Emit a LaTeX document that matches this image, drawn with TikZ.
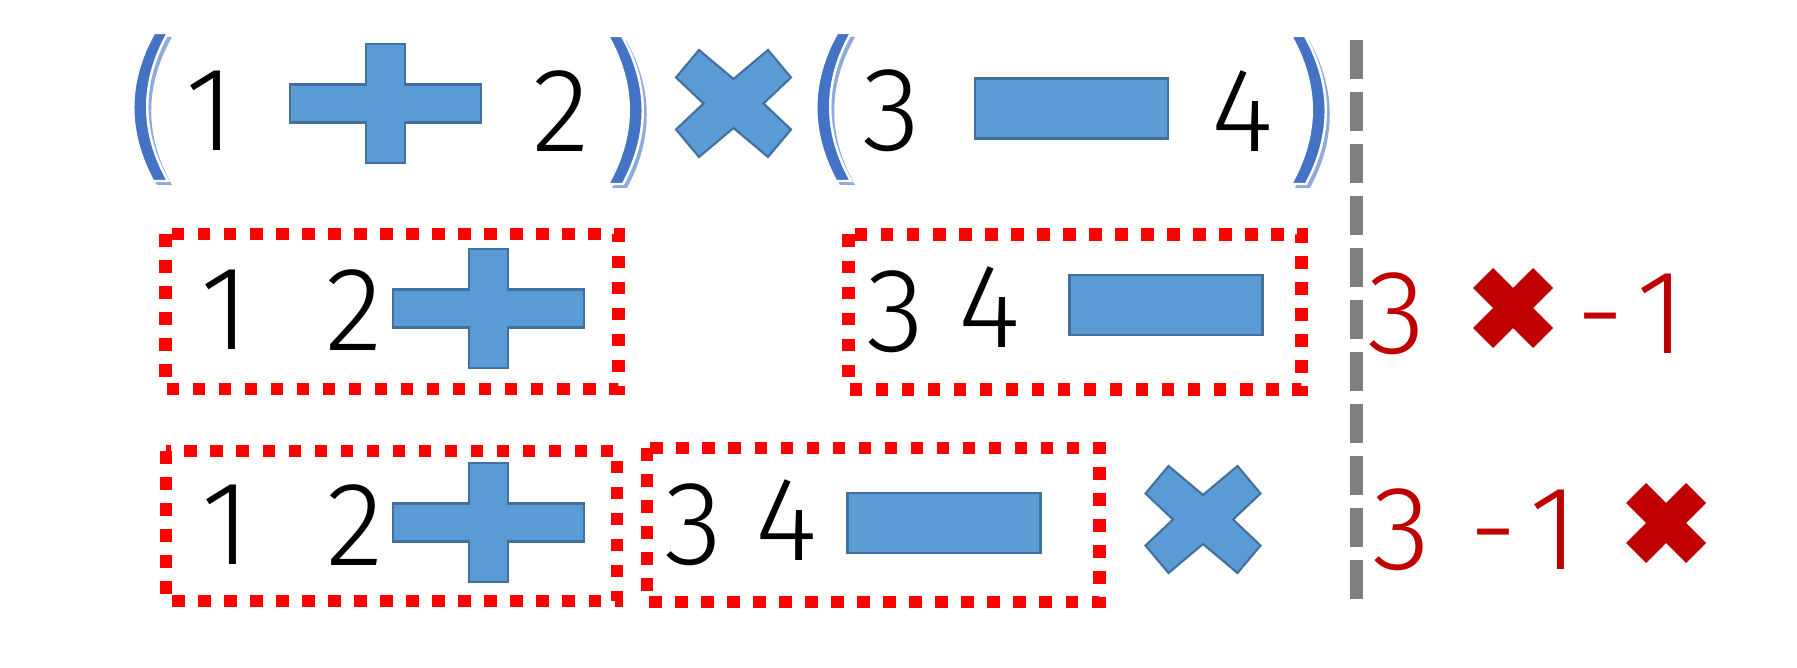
\documentclass[tikz,border=0pt]{standalone}
\usepackage{fontspec}
\newfontfamily\digitfont{Fira Sans Light}

\definecolor{shapeblue}{HTML}{5B9BD5}
\definecolor{shapeedge}{HTML}{41719C}
\definecolor{parenblue}{HTML}{4472C4}
\definecolor{parenglow}{HTML}{8FAADC}
\definecolor{resultred}{HTML}{C00000}
\definecolor{sepgray}{HTML}{7F7F7F}

\tikzset{
  digit/.style={inner sep=0pt, font=\digitfont\fontsize{34pt}{34pt}\selectfont},
  result/.style={digit, text=resultred},
  groupbox/.style={draw=red, line width=3.56pt, dash pattern=on 3.56pt off 3.84pt},
  sepline/.style={draw=sepgray, line width=3.7pt, dash pattern=on 0.39cm off 0.13cm},
  opshape/.style={fill=shapeblue, draw=shapeedge, line width=0.6pt},
  opplus/.pic={
    \filldraw[opshape] (-95.5,-19) -- (-19.5,-19) -- (-19.5,-59.5) -- (19.5,-59.5)
      -- (19.5,-19) -- (95.5,-19) -- (95.5,19) -- (19.5,19) -- (19.5,59.5)
      -- (-19.5,59.5) -- (-19.5,19) -- (-95.5,19) -- cycle;
  },
  opminus/.pic={
    \filldraw[opshape] (-96.5,-30) rectangle (96.5,30);
  },
  optimes/.pic={
    \filldraw[opshape] (-34.5,-53.5) -- (0,-24.5) -- (34.5,-53.5) -- (57.5,-26)
      -- (30,0) -- (57.5,26) -- (34.5,53.5) -- (0,24.5) -- (-34.5,53.5)
      -- (-57.5,26) -- (-30,0) -- (-57.5,-26) -- cycle;
  },
  boldtimes/.pic={
    \fill[resultred] (-20,-40) -- (0,-20) -- (20,-40) -- (40,-20) -- (20,0)
      -- (40,20) -- (20,40) -- (0,20) -- (-20,40) -- (-40,20) -- (-20,0)
      -- (-40,-20) -- cycle;
  },
  lparen/.pic={
    \fill[parenglow, shift={(4,4)}] (20,-74) .. controls (-7.5,-25) and (-7.5,25) .. (19,74)
      -- (34,74) .. controls (6.3,25) and (6.3,-25) .. (34,-74) -- cycle;
    \filldraw[fill=parenblue, draw=white, line width=0.7pt]
      (20,-74) .. controls (-7.5,-25) and (-7.5,25) .. (19,74)
      -- (34,74) .. controls (6.3,25) and (6.3,-25) .. (34,-74) -- cycle;
  },
  rparen/.pic={
    \fill[parenglow, shift={(4,4)}] (-20,-74) .. controls (7.5,-25) and (7.5,25) .. (-19,74)
      -- (-34,74) .. controls (-6.3,25) and (-6.3,-25) .. (-34,-74) -- cycle;
    \filldraw[fill=parenblue, draw=white, line width=0.7pt]
      (-20,-74) .. controls (7.5,-25) and (7.5,25) .. (-19,74)
      -- (-34,74) .. controls (-6.3,25) and (-6.3,-25) .. (-34,-74) -- cycle;
  },
}

\begin{document}
\begin{tikzpicture}[x=0.01cm, y=-0.01cm]

\useasboundingbox (0,0) rectangle (1797,668);

%% =============== Row 1: infix expression (1 + 2) x (3 - 4) ===============

  % --- Parentheses ---
  \pic (lp1) at (134,107)  {lparen};
  \pic (rp1) at (642,110)  {rparen};
  \pic (lp2) at (817,107)  {lparen};
  \pic (rp2) at (1325,110) {rparen};

  % --- Operands ---
  \node[digit] (one)   at (210,111)  {1};
  \node[digit] (two)   at (561,111)  {2};
  \node[digit] (three) at (892,111)  {3};
  \node[digit] (four)  at (1242,111) {4};

  % --- Operators ---
  \pic (plusA)  at (385.5,103.5) {opplus};
  \pic (timesA) at (733.5,103.5) {optimes};
  \pic (minusA) at (1071.5,108.5) {opminus};

%% =============== Row 2: both sub-expressions in postfix ===============

  \draw[groupbox] (165.5,234) rectangle (618.5,389);
  \draw[groupbox] (848.5,234.5) rectangle (1301.5,389.5);

  \node[digit] (oneB)   at (225.5,310) {1};
  \node[digit] (twoB)   at (354,310)   {2};
  \pic (plusB) at (488.5,308.5) {opplus};

  \node[digit] (threeB) at (896,312)   {3};
  \node[digit] (fourB)  at (989.5,307) {4};
  \pic (minusB) at (1166,305) {opminus};

  % --- Partial result ---
  \node[result] (resB3) at (1397,314) {3};
  \pic (rtimesB) at (1513,308) {boldtimes};
  \node[result] (resB1) at (1631,314) {-\kern0.1em1};

%% =============== Row 3: whole expression in postfix ===============

  \draw[groupbox] (166,451) rectangle (617,601);
  \draw[groupbox] (647,448) rectangle (1099.5,602);

  \node[digit] (oneC)   at (226,525)   {1};
  \node[digit] (twoC)   at (355,525)   {2};
  \pic (plusC) at (488.5,522.5) {opplus};

  \node[digit] (threeC) at (694,525)   {3};
  \node[digit] (fourC)  at (786.5,520) {4};
  \pic (minusC) at (944,523) {opminus};

  \pic (timesC) at (1203,519.5) {optimes};

  % --- Partial result ---
  \node[result] (resC3) at (1402,530) {3};
  \node[result] (resC1) at (1524,530) {-\kern0.1em1};
  \pic (rtimesC) at (1666,523) {boldtimes};

%% =============== Separator ===============

  \draw[sepline] (1356.5,40) -- (1356.5,599);

\end{tikzpicture}
\end{document}
